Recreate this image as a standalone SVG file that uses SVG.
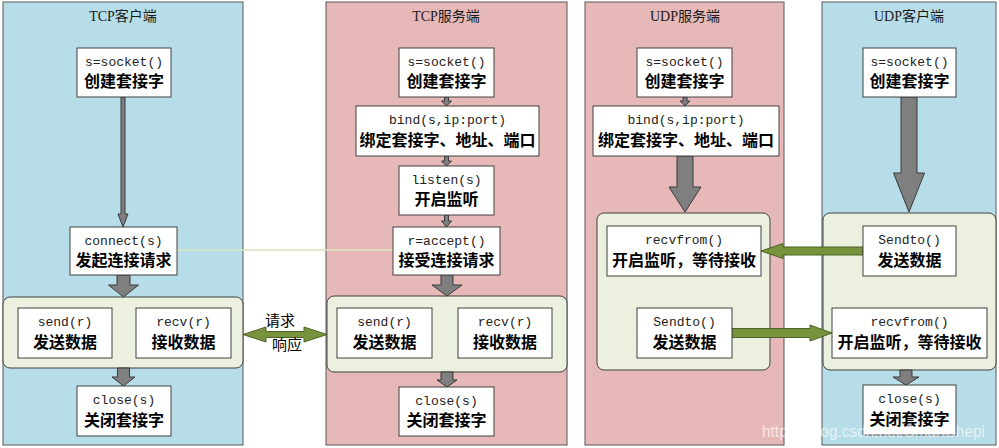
<svg xmlns="http://www.w3.org/2000/svg" width="999" height="448" viewBox="0 0 999 448">
<style>
.bg{fill:#ffffff}
.pb{fill:#b7dde8;stroke:#595959;stroke-width:1}
.pp{fill:#e6b9b8;stroke:#595959;stroke-width:1}
.grp{fill:#ebf1de;stroke:#404040;stroke-width:1}
.box{fill:#ffffff;stroke:#404040;stroke-width:1}
.title{font-family:"Liberation Serif","Noto Sans CJK SC",serif;font-size:14px;fill:#1a1a1a;text-anchor:middle}
.code{font-family:"Liberation Mono","DejaVu Sans Mono",monospace;font-size:13px;fill:#222;text-anchor:middle}
.cn{font-family:"Noto Sans CJK SC","Noto Sans CJK JP",sans-serif;font-size:16px;font-weight:bold;fill:#000;text-anchor:middle}
.lbl{font-family:"Noto Sans CJK SC",sans-serif;font-size:15px;fill:#000;text-anchor:middle}
.ga{fill:#7f7f7f;stroke:#3a3a3a;stroke-width:1;stroke-linejoin:miter}
.gr{fill:#77933c;stroke:#4f6228;stroke-width:1}
.wm{font-family:"Liberation Sans",Arial,sans-serif;font-size:16px;fill:#ffffff;fill-opacity:0.65}
</style>
<rect class="bg" x="0" y="0" width="999" height="448"/>

<g id="panel-tcp-client">
<rect class="pb" x="3" y="2" width="240" height="443"/>
<text class="title" x="123" y="21">TCP客户端</text>
</g>
<g id="panel-tcp-server">
<rect class="pp" x="326" y="2" width="241" height="443"/>
<text class="title" x="446" y="21">TCP服务端</text>
</g>
<g id="panel-udp-server">
<rect class="pp" x="585" y="2" width="199" height="443"/>
<text class="title" x="685" y="21">UDP服务端</text>
</g>
<g id="panel-udp-client">
<rect class="pb" x="822" y="2" width="174" height="443"/>
<text class="title" x="909" y="21">UDP客户端</text>
</g>

<g id="groups">
<rect id="grp-tcp-client" class="grp" x="3" y="297" width="240" height="71" rx="7"/>
<rect id="grp-tcp-server" class="grp" x="327" y="296" width="240" height="76" rx="7"/>
<rect id="grp-udp-server" class="grp" x="597" y="213" width="173" height="157" rx="7"/>
<rect id="grp-udp-client" class="grp" x="823" y="213" width="173" height="157" rx="7"/>
</g>

<g id="connectors">
<line x1="177" y1="250" x2="393" y2="250" stroke="#d7e4bd" stroke-width="1.5"/>
<polygon class="ga" points="121,97 125,97 125,214 128,214 123,227 118,214 121,214"/>
<polygon class="ga" points="117,275 130,275 130,285 138.5,285 123.5,297 108.5,285 117,285"/>
<polygon class="ga" points="117.5,368 129.5,368 129.5,377 135,377 123.5,386 112,377 117.5,377"/>
<polygon class="ga" points="444.5,97 448.5,97 448.5,101 451.5,101 446.5,106 441.5,101 444.5,101"/>
<polygon class="ga" points="444.5,156 448.5,156 448.5,161 451.5,161 446.5,166 441.5,161 444.5,161"/>
<polygon class="ga" points="444.5,215 448.5,215 448.5,221 451.5,221 446.5,227 441.5,221 444.5,221"/>
<polygon class="ga" points="441,275 453,275 453,285 462,285 447,296 432,285 441,285"/>
<polygon class="ga" points="441,372 453,372 453,380 457,380 447,387 437,380 441,380"/>
<polygon class="ga" points="683,97 687,97 687,101 690,101 685,106 680,101 683,101"/>
<polygon class="ga" points="677,156 693,156 693,187 701,187 685,212 669,187 677,187"/>
<polygon class="ga" points="901,97 917,97 917,173 924.5,173 909,212 893.5,173 901,173"/>
<polygon class="ga" points="900,370 912,370 912,377 919,377 906,385 893,377 900,377"/>
<polygon class="gr" points="243,334.5 266,327 266,331.5 304,331.5 304,327 327,334.5 304,342 304,337.5 266,337.5 266,342"/>
<polygon class="gr" points="863,247 783,247 783,243.5 761,251 783,258.5 783,255 863,255"/>
<polygon class="gr" points="732,328.5 810,328.5 810,325 832,333 810,341 810,337.5 732,337.5"/>
<text class="lbl" x="280" y="326">请求</text>
<text class="lbl" x="287" y="350">响应</text>
</g>

<g id="tcp-client-socket">
<rect class="box" x="77" y="48" width="94" height="49"/>
<text class="code" x="124" y="66">s=socket()</text>
<text class="cn" x="124" y="87">创建套接字</text>
</g>
<g id="tcp-client-connect">
<rect class="box" x="70" y="227" width="107" height="48"/>
<text class="code" x="123.5" y="245">connect(s)</text>
<text class="cn" x="123.5" y="266">发起连接请求</text>
</g>
<g id="tcp-client-send">
<rect class="box" x="18" y="308" width="94" height="50"/>
<text class="code" x="65" y="326">send(r)</text>
<text class="cn" x="65" y="348">发送数据</text>
</g>
<g id="tcp-client-recv">
<rect class="box" x="136" y="308" width="95" height="50"/>
<text class="code" x="183.5" y="326">recv(r)</text>
<text class="cn" x="183.5" y="348">接收数据</text>
</g>
<g id="tcp-client-close">
<rect class="box" x="77" y="386" width="94" height="50"/>
<text class="code" x="124" y="404">close(s)</text>
<text class="cn" x="124" y="426">关闭套接字</text>
</g>

<g id="tcp-server-socket">
<rect class="box" x="399" y="48" width="95" height="49"/>
<text class="code" x="446.5" y="66">s=socket()</text>
<text class="cn" x="446.5" y="87">创建套接字</text>
</g>
<g id="tcp-server-bind">
<rect class="box" x="356" y="106" width="183" height="50"/>
<text class="code" x="447.5" y="124">bind(s,ip:port)</text>
<text class="cn" x="447.5" y="146">绑定套接字、地址、端口</text>
</g>
<g id="tcp-server-listen">
<rect class="box" x="399" y="166" width="95" height="49"/>
<text class="code" x="446.5" y="184">listen(s)</text>
<text class="cn" x="446.5" y="205">开启监听</text>
</g>
<g id="tcp-server-accept">
<rect class="box" x="393" y="227" width="107" height="48"/>
<text class="code" x="446.5" y="245">r=accept()</text>
<text class="cn" x="446.5" y="266">接受连接请求</text>
</g>
<g id="tcp-server-send">
<rect class="box" x="337" y="308" width="95" height="50"/>
<text class="code" x="384.5" y="326">send(r)</text>
<text class="cn" x="384.5" y="348">发送数据</text>
</g>
<g id="tcp-server-recv">
<rect class="box" x="458" y="308" width="94" height="50"/>
<text class="code" x="505" y="326">recv(r)</text>
<text class="cn" x="505" y="348">接收数据</text>
</g>
<g id="tcp-server-close">
<rect class="box" x="399" y="387" width="95" height="49"/>
<text class="code" x="446.5" y="405">close(s)</text>
<text class="cn" x="446.5" y="426">关闭套接字</text>
</g>

<g id="udp-server-socket">
<rect class="box" x="637" y="48" width="95" height="49"/>
<text class="code" x="684.5" y="66">s=socket()</text>
<text class="cn" x="684.5" y="87">创建套接字</text>
</g>
<g id="udp-server-bind">
<rect class="box" x="593" y="106" width="186" height="50"/>
<text class="code" x="686" y="124">bind(s,ip:port)</text>
<text class="cn" x="686" y="146">绑定套接字、地址、端口</text>
</g>
<g id="udp-server-recvfrom">
<rect class="box" x="607" y="226" width="154" height="50"/>
<text class="code" x="684" y="244">recvfrom()</text>
<text class="cn" x="684" y="266">开启监听，等待接收</text>
</g>
<g id="udp-server-sendto">
<rect class="box" x="637" y="308" width="95" height="50"/>
<text class="code" x="684.5" y="326">Sendto()</text>
<text class="cn" x="684.5" y="348">发送数据</text>
</g>

<g id="udp-client-socket">
<rect class="box" x="863" y="48" width="93" height="49"/>
<text class="code" x="909.5" y="66">s=socket()</text>
<text class="cn" x="909.5" y="87">创建套接字</text>
</g>
<g id="udp-client-sendto">
<rect class="box" x="863" y="226" width="93" height="50"/>
<text class="code" x="909.5" y="244">Sendto()</text>
<text class="cn" x="909.5" y="266">发送数据</text>
</g>
<g id="udp-client-recvfrom">
<rect class="box" x="832" y="308" width="155" height="50"/>
<text class="code" x="909.5" y="326">recvfrom()</text>
<text class="cn" x="909.5" y="348">开启监听，等待接收</text>
</g>
<g id="udp-client-close">
<rect class="box" x="863" y="385" width="93" height="50"/>
<text class="code" x="909.5" y="403">close(s)</text>
<text class="cn" x="909.5" y="425">关闭套接字</text>
</g>

<text class="wm" x="762" y="437" textLength="223" lengthAdjust="spacingAndGlyphs">https://blog.csdn.net/SmartShepi</text>
</svg>
